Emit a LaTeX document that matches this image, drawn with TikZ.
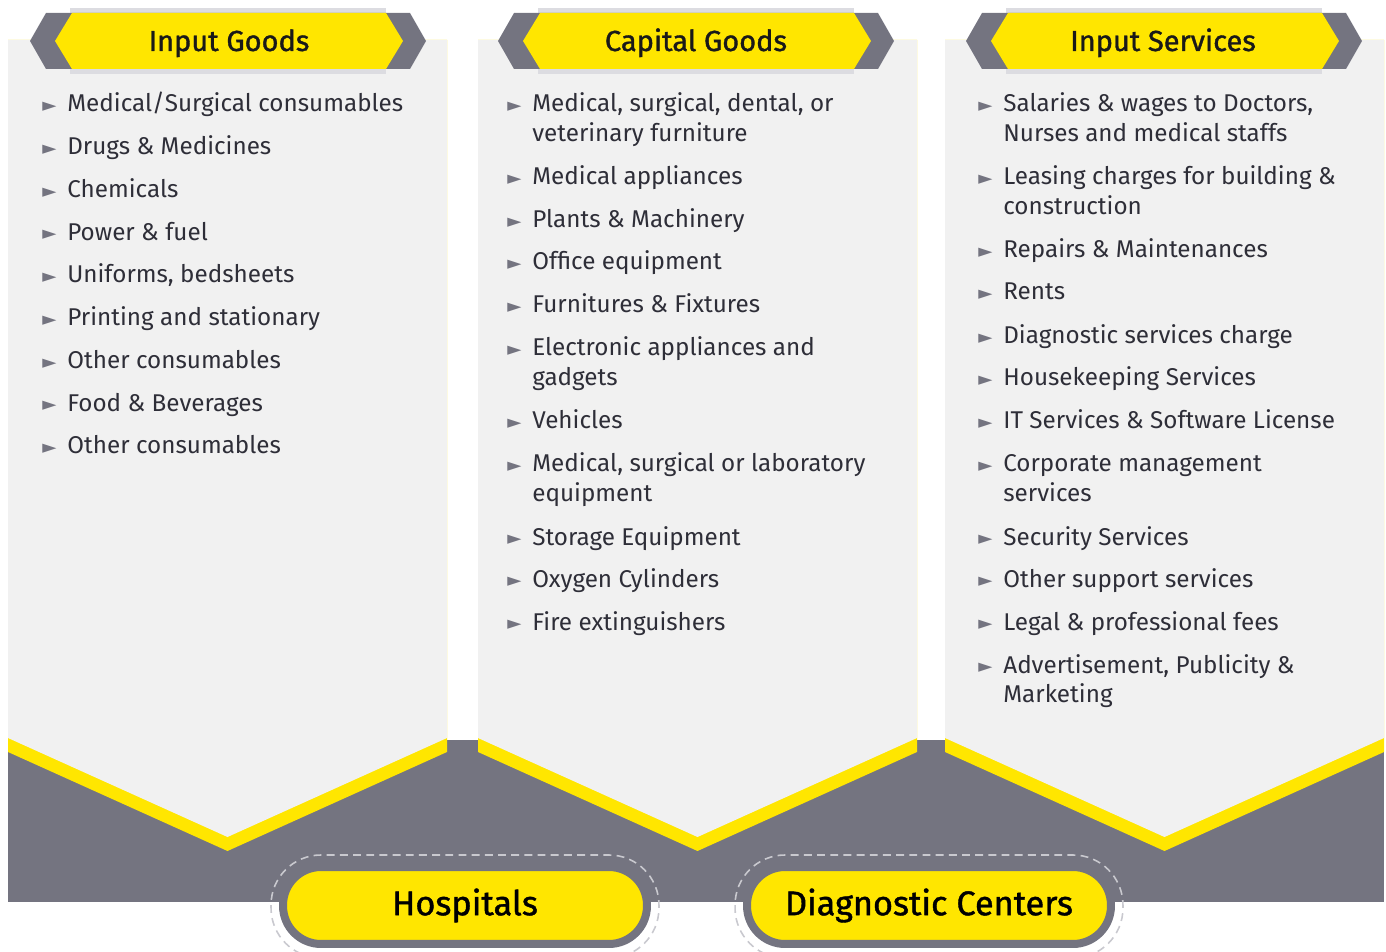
\documentclass[tikz,border=0pt]{standalone}
\usepackage{fontspec}
\setmainfont{Fira Sans}
\newfontfamily\mediumfont[FakeBold=1.2]{Fira Sans}
\newfontfamily\symfont{DejaVu Sans}
\usepackage{xcolor}
\usepackage{tikz}
\usetikzlibrary{calc}
\definecolor{eyyellow}{HTML}{FFE600}
\definecolor{eygray}{HTML}{747480}
\definecolor{panelgray}{HTML}{F1F1F1}
\definecolor{bargray}{HTML}{DCDCE1}
\definecolor{eytext}{HTML}{2E2E38}
\definecolor{dashgray}{HTML}{C9C9CF}
% bullet, then the entry as a top-aligned block so wrapped lines hang
\newcommand{\pointer}[1]{\makebox[0.5cm][l]{\symfont\color{eygray}\fontsize{10.5}{10.5}\selectfont\raisebox{0.2pt}{►}}\parbox[t]{8cm}{\raggedright #1}}
\tikzset{
	listitem/.style={anchor=base west,inner sep=0pt,text=eytext,font=\fontsize{13.8}{17}\selectfont},
	heading/.style={anchor=base,inner sep=0pt,text=black!90,font=\mediumfont\fontsize{16.5}{19}\selectfont},
	pill/.style={draw=eygray,line width=0.16cm,fill=eyyellow,rounded corners=0.76cm,minimum width=7.28cm,minimum height=1.54cm,text=black,font=\mediumfont\fontsize{19.5}{22}\selectfont},
	ring/.style={draw=dashgray,line width=0.9pt,dash pattern=on 4.5pt off 3pt,rounded corners=1cm}
}

\begin{document}
\begin{tikzpicture}[x=0.02cm,y=-0.02cm]
	\clip (0,0) rectangle (1386,952);
	% dark strip behind the panels
	\fill[eygray] (8,740) rectangle (1384,902);
	% panels: yellow rim first, light body on top
	\fill[eyyellow] (8,40) -- (447,40) -- (447,752) -- (227.5,851) -- (8,752) -- cycle;
	\fill[panelgray] (8,40) -- (447,40) -- (447,738) -- (227.5,837) -- (8,738) -- cycle;
	\fill[eyyellow] (478,40) -- (917,40) -- (917,752) -- (697.5,851) -- (478,752) -- cycle;
	\fill[panelgray] (478,40) -- (917,40) -- (917,738) -- (697.5,837) -- (478,738) -- cycle;
	\fill[eyyellow] (945,40) -- (1384,40) -- (1384,752) -- (1164.5,851) -- (945,752) -- cycle;
	\fill[panelgray] (945,40) -- (1384,40) -- (1384,738) -- (1164.5,837) -- (945,738) -- cycle;

	% headers
	\begin{scope}[shift={(228,0)}]
		\fill[bargray] (-158,8) rectangle (158,74);
		\fill[eygray] (-198,41) -- (-182,13) -- (182,13) -- (198,41) -- (182,69) -- (-182,69) -- cycle;
		\fill[eyyellow] (-173,41) -- (-156,13) -- (158,13) -- (175,41) -- (158,69) -- (-156,69) -- cycle;
	\end{scope}
	\begin{scope}[shift={(696,0)}]
		\fill[bargray] (-158,8) rectangle (158,74);
		\fill[eygray] (-198,41) -- (-182,13) -- (182,13) -- (198,41) -- (182,69) -- (-182,69) -- cycle;
		\fill[eyyellow] (-173,41) -- (-156,13) -- (158,13) -- (175,41) -- (158,69) -- (-156,69) -- cycle;
	\end{scope}
	\begin{scope}[shift={(1164,0)}]
		\fill[bargray] (-158,8) rectangle (158,74);
		\fill[eygray] (-198,41) -- (-182,13) -- (182,13) -- (198,41) -- (182,69) -- (-182,69) -- cycle;
		\fill[eyyellow] (-173,41) -- (-156,13) -- (158,13) -- (175,41) -- (158,69) -- (-156,69) -- cycle;
	\end{scope}
	\node[heading] (inputgoods) at (229,51) {Input Goods};
	\node[heading] (capitalgoods) at (696,51) {Capital Goods};
	\node[heading] (inputservices) at (1163,51) {Input Services};

	% input goods
	\node[listitem] (consumables) at (42,112) {\pointer{Medical/Surgical consumables}};
	\node[listitem] (drugs) at (42,154.75) {\pointer{Drugs \& Medicines}};
	\node[listitem] (chemicals) at (42,197.5) {\pointer{Chemicals}};
	\node[listitem] (power) at (42,240.25) {\pointer{Power \& fuel}};
	\node[listitem] (uniforms) at (42,283) {\pointer{Uniforms, bedsheets}};
	\node[listitem] (printing) at (42,325.75) {\pointer{Printing and stationary}};
	\node[listitem] (otherA) at (42,368.5) {\pointer{Other consumables}};
	\node[listitem] (food) at (42,411.25) {\pointer{Food \& Beverages}};
	\node[listitem] (otherB) at (42,454) {\pointer{Other consumables}};

	% capital goods
	\node[listitem] (furniture) at (507,112) {\pointer{Medical, surgical, dental, or\\veterinary furniture}};
	\node[listitem] (appliances) at (507,185) {\pointer{Medical appliances}};
	\node[listitem] (plants) at (507,228) {\pointer{Plants \& Machinery}};
	\node[listitem] (office) at (507,270) {\pointer{Office equipment}};
	\node[listitem] (fixtures) at (507,313) {\pointer{Furnitures \& Fixtures}};
	\node[listitem] (electronics) at (507,356) {\pointer{Electronic appliances and\\gadgets}};
	\node[listitem] (vehicles) at (507,429) {\pointer{Vehicles}};
	\node[listitem] (labequip) at (507,472) {\pointer{Medical, surgical or laboratory\\equipment}};
	\node[listitem] (storage) at (507,545) {\pointer{Storage Equipment}};
	\node[listitem] (oxygen) at (507,587) {\pointer{Oxygen Cylinders}};
	\node[listitem] (fire) at (507,630) {\pointer{Fire extinguishers}};

	% input services
	\node[listitem] (salaries) at (978,112) {\pointer{Salaries \& wages to Doctors,\\Nurses and medical staffs}};
	\node[listitem] (leasing) at (978,185) {\pointer{Leasing charges for building \&\\construction}};
	\node[listitem] (repairs) at (978,258) {\pointer{Repairs \& Maintenances}};
	\node[listitem] (rents) at (978,300) {\pointer{Rents}};
	\node[listitem] (diagcharge) at (978,344) {\pointer{Diagnostic services charge}};
	\node[listitem] (housekeeping) at (978,386) {\pointer{Housekeeping Services}};
	\node[listitem] (itservices) at (978,429) {\pointer{IT Services \& Software License}};
	\node[listitem] (corporate) at (978,472) {\pointer{Corporate management\\services}};
	\node[listitem] (security) at (978,545) {\pointer{Security Services}};
	\node[listitem] (support) at (978,587) {\pointer{Other support services}};
	\node[listitem] (legal) at (978,630) {\pointer{Legal \& professional fees}};
	\node[listitem] (advert) at (978,673) {\pointer{Advertisement, Publicity \&\\Marketing}};

	% bottom pills
	\node[pill] (hospitals) at (465,905.5) {Hospitals};
	\node[pill] (diagnostic) at (929,905.5) {Diagnostic Centers};
	\draw[ring] ([shift={(-8,-8)}]hospitals.north west) rectangle ([shift={(8,10)}]hospitals.south east);
	\draw[ring] ([shift={(-8,-8)}]diagnostic.north west) rectangle ([shift={(8,10)}]diagnostic.south east);
\end{tikzpicture}
\end{document}
